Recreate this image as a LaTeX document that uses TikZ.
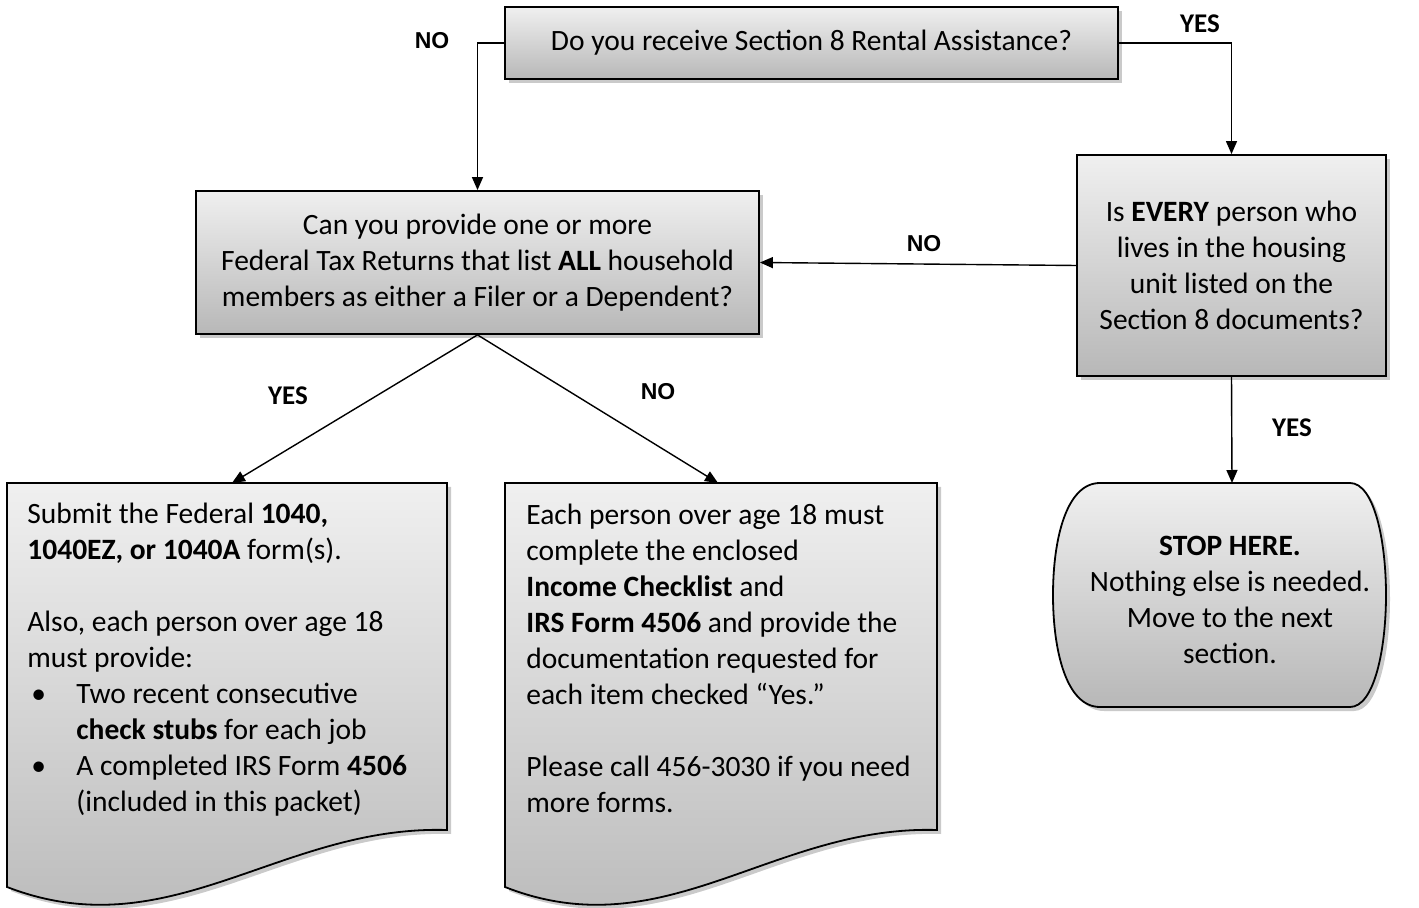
\documentclass[tikz,border=0pt]{standalone}
\usepackage{fontspec}
\setmainfont{Carlito}
\newfontfamily\arialfont{Liberation Sans}
\usetikzlibrary{arrows.meta,shadows}

\begin{document}
\begin{tikzpicture}[x=0.5pt,y=-0.5pt,
	font=\fontsize{14.75}{18}\selectfont,
	boxfill/.style={top color=black!6,bottom color=black!28},
	shade box/.style={draw=black,line width=0.9pt,boxfill,
		drop shadow={shadow xshift=2pt,shadow yshift=-2pt,opacity=0.35,fill=black!60},
		align=center,inner sep=0pt},
	flow/.style={draw=black,line width=0.7pt,-{Triangle[length=6.5pt,width=5.5pt]}},
	yeslabel/.style={font=\fontsize{13.5}{16}\selectfont\bfseries},
	nolabel/.style={font=\arialfont\fontsize{11.5}{14}\selectfont\bfseries},
	doctext/.style={anchor=north west,align=left,inner sep=0pt}
	]
	\useasboundingbox (0,0) rectangle (1419,908);
	
	% question boxes
	\node[shade box,minimum width=306.5pt,minimum height=36pt] (rental) at (811.5,43)
		{Do you receive Section 8 Rental Assistance?};
	\node[shade box,minimum width=281.5pt,minimum height=71.5pt] (taxret) at (477.5,262.5)
		{Can you provide one or more\\
		 Federal Tax Returns that list \textbf{ALL} household\\
		 members as either a Filer or a Dependent?};
	\node[shade box,minimum width=154.5pt,minimum height=110.5pt] (every) at (1231.5,265.5)
		{Is \textbf{EVERY} person who\\
		 lives in the housing\\
		 unit listed on the\\
		 Section 8 documents?};
	
	% stop shape
	\path[draw=black,line width=0.9pt,boxfill,
		drop shadow={shadow xshift=2pt,shadow yshift=-2pt,opacity=0.35,fill=black!60}]
		(1100,483) -- (1350,483)
		.. controls (1374,483) and (1386,540) .. (1386,595)
		.. controls (1386,650) and (1374,707) .. (1350,707)
		-- (1100,707)
		.. controls (1066,707) and (1053,650) .. (1053,595)
		.. controls (1053,540) and (1066,483) .. (1100,483) -- cycle;
	\coordinate (stoptop) at (1232,483);
	\node[align=center,inner sep=0pt] (stop) at (1230,600)
		{\textbf{STOP HERE.}\\
		 Nothing else is needed.\\
		 Move to the next\\
		 section.};
	
	% document shapes
	\path[draw=black,line width=0.9pt,boxfill,
		drop shadow={shadow xshift=2pt,shadow yshift=-2pt,opacity=0.35,fill=black!60}]
		(7,483) -- (447,483) -- (447,830)
		.. controls (280,825) and (170,950) .. (7,887) -- cycle;
	\coordinate (yestop) at (232,483);
	\node[doctext] (yesdoc) at (27,503)
		{Submit the Federal \textbf{1040,}\\
		 \textbf{1040EZ, or 1040A} form(s).\\[18pt]
		 Also, each person over age 18\\
		 must provide:\\
		 \makebox[24.5pt][l]{\hspace*{2pt}\textbullet}Two recent consecutive\\
		 \hspace*{24.5pt}\textbf{check stubs} for each job\\
		 \makebox[24.5pt][l]{\hspace*{2pt}\textbullet}A completed IRS Form \textbf{4506}\\
		 \hspace*{24.5pt}(included in this packet)};
	
	\path[draw=black,line width=0.9pt,boxfill,
		drop shadow={shadow xshift=2pt,shadow yshift=-2pt,opacity=0.35,fill=black!60}]
		(505,483) -- (937,483) -- (937,830)
		.. controls (773,825) and (665,950) .. (505,887) -- cycle;
	\coordinate (notop) at (718,483);
	\node[doctext] (nodoc) at (526,504)
		{Each person over age 18 must\\
		 complete the enclosed\\
		 \textbf{Income Checklist} and\\
		 \textbf{IRS Form 4506} and provide the\\
		 documentation requested for\\
		 each item checked “Yes.”\\[18pt]
		 Please call 456-3030 if you need\\
		 more forms.};
	
	% connectors
	\draw[flow] (rental.west) -| (taxret.north);
	\draw[flow] (rental.east) -| (every.north);
	\draw[flow] (every.west) -- (taxret.east);
	\draw[flow] (every.south) -- (stoptop);
	\draw[flow] (taxret.south) -- (yestop);
	\draw[flow] (taxret.south) -- (notop);
	
	% labels
	\node[nolabel] (no1) at (432,41) {NO};
	\node[yeslabel] (yes1) at (1200,24) {YES};
	\node[nolabel] (no2) at (924,244) {NO};
	\node[yeslabel] (yes2) at (1292,428) {YES};
	\node[yeslabel] (yes3) at (288,396) {YES};
	\node[nolabel] (no3) at (658,392) {NO};
\end{tikzpicture}
\end{document}
